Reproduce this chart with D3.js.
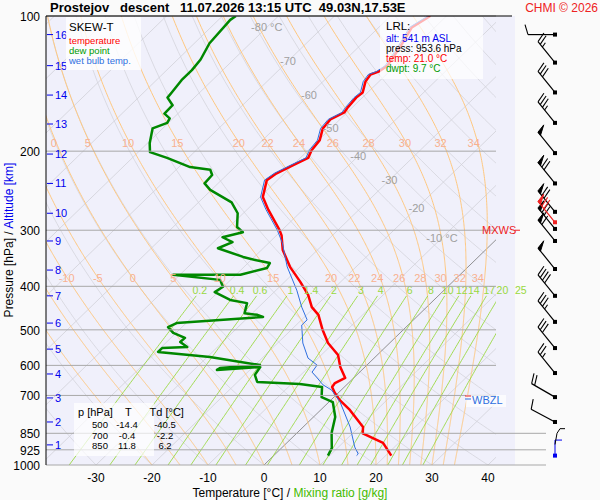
<!DOCTYPE html>
<html><head><meta charset="utf-8">
<script src="https://cdn.jsdelivr.net/npm/d3@7"></script>
<style>body{margin:0;background:#fafafa}svg{font-family:"Liberation Sans",Arial,sans-serif}</style>
</head><body><svg id="c" width="600" height="500"></svg>
<script>
// ---- data ----
const tempP = [953,893,850,823,754,717,691,670,657,640,605,569,535,500,463,445,418,391,362,332,308,300,270,253,232,224,215,207,199,189,178,170,164,160,152,148,140,135,133,129,117,106,100];
const tempT = [21.0,17.2,11.8,10.7,5.2,1.6,-0.6,-2.2,-2.4,-1.5,-4.4,-7.0,-11.0,-14.4,-17.9,-20.5,-23.4,-27.2,-31.8,-36.2,-39.1,-40.4,-46.2,-49.5,-51.9,-51.4,-50.0,-48.6,-49.4,-49.8,-51.4,-51.7,-50.5,-50.8,-51.1,-50.9,-52.4,-52.8,-51.9,-51.4,-52.6,-54.1,-52.9];
const wbP = [953,945,912,823,724,681,663,640,621,599,578,535,488,475,445,408,362,320,300,270,253,232,224,215,207,199,189,178,170,164,160,152,148,140,135,133,129,117,106,100];
const wbT = [14.8,14.8,12.9,8.4,2.0,-1.7,-4.2,-6.5,-8.5,-8.9,-11.8,-15.5,-19.0,-19.0,-22.3,-26.3,-32.3,-37.6,-40.8,-46.6,-49.9,-52.3,-51.8,-50.4,-49.0,-49.8,-50.2,-51.8,-52.1,-50.9,-51.2,-51.5,-51.3,-52.8,-53.2,-52.3,-51.8,-53.0,-54.5,-53.3];
const dewP = [953,917,849,782,724,706,670,660,653,630,605,614,608,599,575,560,549,546,532,521,508,493,483,468,463,459,436,429,412,401,387,377,377,364,355,350,344,329,319,311,303,295,275,260,244,236,226,220,217,207,201,192,178,173,169,165,158,152,148,139,132,125,115,102,100];
const dewT = [9.7,9.0,6.2,3.9,0.7,-2.2,-4.0,-8.5,-16.5,-18.2,-18.7,-25.9,-25.7,-19.1,-29.5,-39.7,-39.7,-35.4,-37.6,-37.5,-40.5,-42.5,-41.7,-27.4,-28.8,-31.4,-32.8,-36.4,-40.6,-40.1,-41.9,-51.2,-39.2,-35.7,-36.1,-39.0,-42.0,-48.1,-46.6,-49.3,-46.6,-48.6,-51.0,-54.1,-60.2,-62.4,-62.6,-63.9,-68.0,-73.8,-77.9,-79.6,-81.8,-80.2,-80.6,-82.4,-82.5,-84.8,-85.0,-85.5,-85.5,-85.9,-87.3,-87.9,-87.6];
const pLevels = [100,200,300,400,500,600,700,850,925,1000];
const tTicks = [-30,-20,-10,0,10,20,30,40];
const altKm = [1,2,3,4,5,6,7,8,9,10,11,12,13,14,15,16];
const altP = [902,802,709,627,552,483,420,368,317,275,236,203,174,150,129,110];
const isoLabels = [-80,-70,-60,-50,-40,-30,-20,-10];
const isoLabelP = [106,126,150,178,205,232,268,312];
const thetaW = [-20,-15,-10,-5,0,5,10,15,20,22,24,26,28,30,32,34];
const mixR = [0.2,0.4,0.6,1,1.4,2,3,4,6,8,10,12,14,17,20,25];
const windP = [110,127,148,173,202,236,273,298,317,366,420,480,549,624,706,802];
const windDir = [270,321,321,321,321,321,321,321,321,321,321,321,321,321,300,298];
const windSpd = [10,25,30,35,50,70,70,70,60,50,40,35,30,25,20,10];
const mxwsP = 288, mxwsDir = 321, mxwsSpd = 70;
const tableRows = [["500","-14.4","-40.5"],["700","-0.4","-2.2"],["850","11.8","6.2"]];

// ---- scales ----
const L=46,R=496,T0=16,B=465;
const y = d3.scaleLog().domain([1000,100]).range([B,T0]);
const xT = d3.scaleLinear().domain([-30,40]).range([96,488]);
const skew = 1.03;
const X = (t,p)=> xT(t) + skew*(B - y(p));
const svg = d3.select("#c");
svg.append("rect").attr("x",L).attr("y",T0).attr("width",515-L).attr("height",B-T0).attr("fill","#f0f0fb");
svg.append("clipPath").attr("id","cp").append("rect").attr("x",L).attr("y",T0).attr("width",R-L).attr("height",B-T0);
const g = svg.append("g").attr("clip-path","url(#cp)");
const line = d3.line().x(d=>X(d[1],d[0])).y(d=>y(d[0]));
const presGrid = d3.range(1000,99,-10);

for(let th=-40;th<=220;th+=10){
  const pts = presGrid.map(p=>[p,(th+273.15)*Math.pow(p/1000,0.2857)-273.15]);
  g.append("path").attr("d",line(pts)).attr("fill","none").attr("stroke","#d4d4dc").attr("stroke-width",0.8);
}
for(let t=-120;t<=40;t+=10){
  g.append("path").attr("d",line([[1000,t],[100,t]])).attr("fill","none")
   .attr("stroke",t===0?"#777":"#d0d0d8").attr("stroke-width",0.8);
}
const es=tc=>6.112*Math.exp(17.67*tc/(tc+243.5));
function moist(tw){
  let Tk=tw+273.15, pts=[[1000,tw]];
  for(let p=1000;p>100;p-=2){
    const tc=Tk-273.15, e=es(tc), rs=0.622*e/(p-e);
    const dTdp=(287*Tk+2.5e6*rs)/(p*(1004+2.5e6*2.5e6*rs*0.622/(287*Tk*Tk)));
    Tk-=dTdp*2; pts.push([p-2,Tk-273.15]);
  }
  return pts;
}
const maLab = svg.append("g");
thetaW.forEach(tw=>{
  const pts=moist(tw);
  g.append("path").attr("d",line(pts)).attr("fill","none").attr("stroke","#ffc880").attr("stroke-width",1);
  [200,400].forEach(pl=>{
    const d=pts.find(q=>q[0]<=pl); const xx=Math.max(X(d[1],pl)-6,53);
    if(xx<R-4 && !(pl===400&&tw<-10) && !(pl===200&&tw<0))
      maLab.append("text").attr("x",xx).attr("y",y(pl)-4).attr("text-anchor","middle").attr("font-size",11).attr("fill","#f8b090").text(tw);
  });
});
mixR.forEach(w=>{
  const tdOf=p=>{const e=w*p/(622+w),l=Math.log(e/6.112);return 243.5*l/(17.67-l);};
  const pts=d3.range(1000,415,-5).map(p=>[p,tdOf(p)]);
  g.append("path").attr("d",line(pts)).attr("fill","none").attr("stroke","#98d840").attr("stroke-width",0.9);
  svg.append("text").attr("x",X(tdOf(410),410)).attr("y",y(410)+3).attr("text-anchor","middle").attr("font-size",10.5).attr("fill","#98d840").text(w);
});
pLevels.forEach(p=>{
  svg.append("line").attr("x1",L).attr("x2",p>=850?546:R).attr("y1",y(p)).attr("y2",y(p)).attr("stroke","#a8a8a8");
  svg.append("text").attr("x",40).attr("y",y(p)+5).attr("text-anchor","end").attr("font-size",12).text(p);
});
isoLabels.forEach((t,i)=>{
  svg.append("text").attr("x",X(t,isoLabelP[i])).attr("y",y(isoLabelP[i])+4).attr("text-anchor","middle")
   .attr("font-size",11).attr("fill","#a0a0a0").text(t+(t===-80||t===-10?" °C":""));
});
const prof=(P,Tv,c,w)=>g.append("path").attr("d",line(P.map((p,i)=>[p,Tv[i]]))).attr("fill","none").attr("stroke",c).attr("stroke-width",w).attr("stroke-linejoin","round");
prof(dewP,dewT,"#008800",2.5);
prof(tempP,tempT,"#ff0000",2.5);
prof(wbP,wbT,"#2f6fe0",1);
svg.append("line").attr("x1",L).attr("x2",L).attr("y1",T0).attr("y2",B).attr("stroke","#000");
svg.append("line").attr("x1",L).attr("x2",512).attr("y1",T0).attr("y2",T0).attr("stroke","#000");
tTicks.forEach(t=>svg.append("text").attr("x",xT(t)).attr("y",482).attr("text-anchor","middle").attr("font-size",12).text(t));
altKm.forEach((k,i)=>{
  svg.append("line").attr("x1",47).attr("x2",53).attr("y1",y(altP[i])).attr("y2",y(altP[i])).attr("stroke","#0000ee");
  svg.append("text").attr("x",55).attr("y",y(altP[i])+4).attr("font-size",11).attr("fill","#0000ee").text(k);
});
const xl=svg.append("text").attr("x",290).attr("y",497).attr("text-anchor","middle").attr("font-size",12);
xl.append("tspan").text("Temperature [°C]  /  ");xl.append("tspan").attr("fill","#44bb00").text("Mixing ratio [g/kg]");
const yl=svg.append("text").attr("transform","translate(13,240) rotate(-90)").attr("text-anchor","middle").attr("font-size",12);
yl.append("tspan").text("Pressure [hPa]  /  ");yl.append("tspan").attr("fill","#0000ee").text("Altitude [km]");
svg.append("text").attr("x",50).attr("y",12).attr("font-size",13).attr("font-weight","bold").attr("xml:space","preserve").text("Prostejov   descent   11.07.2026 13:15 UTC  49.03N,17.53E");
svg.append("text").attr("x",598).attr("y",12).attr("text-anchor","end").attr("font-size",12).attr("fill","#ee2222").text("CHMI © 2026");
svg.append("rect").attr("x",66).attr("y",17).attr("width",75).attr("height",53).attr("fill","#fff").attr("opacity",0.8);
[["SKEW-T","#000",11.5,31],["temperature","#ff0000",9.5,44],["dew point","#009900",9.5,54],["wet bulb temp.","#2f6fe0",9.5,64]]
 .forEach(d=>svg.append("text").attr("x",69).attr("y",d[3]).attr("font-size",d[2]).attr("fill",d[1]).text(d[0]));
svg.append("rect").attr("x",380).attr("y",17).attr("width",103).attr("height",62).attr("fill","#fff").attr("opacity",0.7);
[["LRL:","#000",30],["alt: 541 m ASL","#0000ee",42],["press: 953.6 hPa","#000",52],["temp: 21.0 °C","#ff0000",62],["dwpt: 9.7 °C","#009900",72]]
 .forEach(d=>svg.append("text").attr("x",386).attr("y",d[2]).attr("font-size",d[0]==="LRL:"?11.5:10).attr("fill",d[1]).text(d[0]));
svg.append("rect").attr("x",74).attr("y",403).attr("width",80).attr("height",53).attr("fill","#fff").attr("opacity",0.7);
svg.append("text").attr("x",78).attr("y",416).attr("font-size",11).attr("xml:space","preserve").text("p [hPa]    T      Td [°C]");
tableRows.forEach((r,i)=>{const yy=428+i*10.5;
  svg.append("text").attr("x",100).attr("y",yy).attr("text-anchor","middle").attr("font-size",9.5).text(r[0]);
  svg.append("text").attr("x",127).attr("y",yy).attr("text-anchor","middle").attr("font-size",9.5).text(r[1]);
  svg.append("text").attr("x",165).attr("y",yy).attr("text-anchor","middle").attr("font-size",9.5).text(r[2]);});
svg.append("text").attr("x",482).attr("y",y(300)+4).attr("font-size",11).attr("fill","#ee2222").text("MXWS");
svg.append("line").attr("x1",515).attr("x2",520).attr("y1",y(300)).attr("y2",y(300)).attr("stroke","#ee2222");
svg.append("rect").attr("x",466).attr("y",395).attr("width",40).attr("height",12).attr("fill","#fff").attr("opacity",0.7);
svg.append("line").attr("x1",465).attr("x2",471).attr("y1",396).attr("y2",396).attr("stroke","#ee2222");
svg.append("line").attr("x1",465).attr("x2",471).attr("y1",399).attr("y2",399).attr("stroke","#2f6fe0");
svg.append("text").attr("x",472).attr("y",404).attr("font-size",11).attr("fill","#2f6fe0").text("WBZL");
function barb(p,dir,spd,col){
  const x0=555,y0=y(p),a=dir*Math.PI/180,dx=Math.sin(a),dy=-Math.cos(a),Ls=27;
  const gg=svg.append("g").attr("stroke",col).attr("fill",col);
  gg.append("line").attr("x1",x0).attr("y1",y0).attr("x2",x0+dx*Ls).attr("y2",y0+dy*Ls).attr("stroke-width",1.2);
  gg.append("rect").attr("x",x0-2).attr("y",y0-2).attr("width",4).attr("height",4).attr("stroke","none");
  const px=-dy,py=dx; let pos=Ls, s=spd;
  while(s>=50){const bx=x0+dx*pos,by=y0+dy*pos,b2x=x0+dx*(pos-4),b2y=y0+dy*(pos-4);
    gg.append("path").attr("d",`M${bx},${by}L${bx+px*9+dx*2},${by+py*9+dy*2}L${b2x},${b2y}Z`);pos-=6;s-=50;}
  while(s>=10){const bx=x0+dx*pos,by=y0+dy*pos;
    gg.append("line").attr("x1",bx).attr("y1",by).attr("x2",bx+px*10+dx*3).attr("y2",by+py*10+dy*3).attr("stroke-width",1.1);pos-=3.5;s-=10;}
  if(s>=5){const bx=x0+dx*pos,by=y0+dy*pos;
    gg.append("line").attr("x1",bx).attr("y1",by).attr("x2",bx+px*5+dx*1.5).attr("y2",by+py*5+dy*1.5).attr("stroke-width",1.1);}
}
windP.forEach((p,i)=>barb(p,windDir[i],windSpd[i],"#000"));
barb(mxwsP,mxwsDir,mxwsSpd,"#ee2222");
svg.append("path").attr("d",`M555,${y(953)}V${y(880)}H562`).attr("fill","none").attr("stroke","#0000ee");
svg.append("path").attr("d",`M555,${y(900)}L557,${y(850)}L560,${y(830)}H565`).attr("fill","none").attr("stroke","#000");
svg.append("rect").attr("x",553).attr("y",y(953)-2).attr("width",4).attr("height",4).attr("fill","#0000ee");
</script></body></html>
